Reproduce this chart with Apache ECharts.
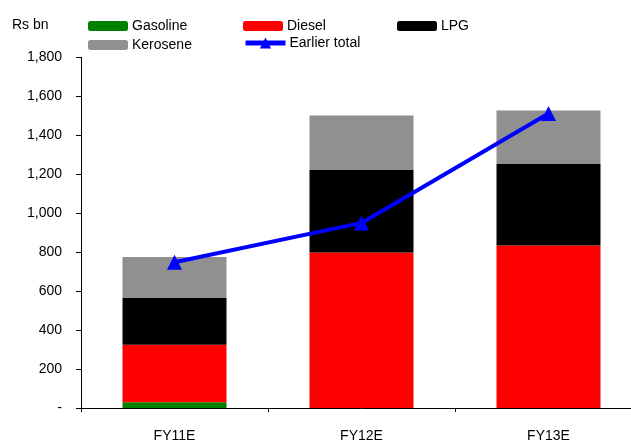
<!DOCTYPE html>
<html>
<head>
<meta charset="utf-8">
<script src="https://cdn.jsdelivr.net/npm/echarts@6/dist/echarts.min.js"></script>
<style>
  html, body { margin: 0; padding: 0; background: #fff; overflow: hidden; }
  /* plot area runs a little past the right edge of the window */
  #chart { width: 642px; height: 443px; }
</style>
</head>
<body>
<div id="chart"></div>
<script>
// Fuel under-recoveries by product, Rs bn
const categories = ['FY11E', 'FY12E', 'FY13E'];
const gasoline = [29, 0, 0];
const diesel = [296, 798, 834];
const lpg = [240, 423, 418];
const kerosene = [210, 280, 275];
const earlierTotal = [748, 950, 1512];
const yTicks = { min: 0, max: 1800, interval: 200 };

const FONT = 'Liberation Sans, Arial, sans-serif';
const textStyle = { fontFamily: FONT, fontSize: 14, color: '#000' };

function fmt(v) {
  if (v === 0) return '-';
  return v.toString().replace(/\B(?=(\d{3})+(?!\d))/g, ',');
}

function legendAt(name, left, top, extra) {
  return Object.assign({
    data: [name], left: left, top: top,
    itemWidth: 40, itemHeight: 10, itemGap: 0,
    padding: 0, textStyle: Object.assign({ padding: [0, 0, 0, -1] }, textStyle),
    selectedMode: false
  }, extra || {});
}

const chart = echarts.init(document.getElementById('chart'), null, { renderer: 'canvas' });
chart.setOption({
  animation: false,
  backgroundColor: '#fff',
  textStyle: textStyle,
  graphic: [{
    type: 'text', left: 12, top: 18,
    style: { text: 'Rs bn', font: '14px ' + FONT, fill: '#000' }
  }],
  legend: [
    legendAt('Gasoline', 88, 19),
    legendAt('Diesel', 243, 19),
    legendAt('LPG', 397, 19),
    legendAt('Kerosene', 88, 38),
    legendAt('Earlier total', 243, 36, { itemHeight: 14, lineStyle: { width: 5 } })
  ],
  grid: { left: 81, top: 57.3, right: 0, height: 353.4, containLabel: false },
  xAxis: {
    type: 'category',
    data: categories,
    axisLine: { lineStyle: { color: '#000', width: 1 } },
    axisTick: { show: true, length: 4, alignWithLabel: false, lineStyle: { color: '#000' } },
    axisLabel: Object.assign({ margin: 21 }, textStyle),
    splitLine: { show: false }
  },
  yAxis: {
    type: 'value',
    min: yTicks.min, max: yTicks.max, interval: yTicks.interval,
    axisLine: { show: true, lineStyle: { color: '#000', width: 1 } },
    axisTick: { show: true, length: 5, lineStyle: { color: '#000' } },
    axisLabel: Object.assign({ margin: 19, formatter: fmt }, textStyle),
    splitLine: { show: false }
  },
  series: [
    { name: 'Gasoline', type: 'bar', stack: 'fuel', barWidth: 104, data: gasoline, itemStyle: { color: '#008000' } },
    { name: 'Diesel', type: 'bar', stack: 'fuel', barWidth: 104, data: diesel, itemStyle: { color: '#ff0000' } },
    { name: 'LPG', type: 'bar', stack: 'fuel', barWidth: 104, data: lpg, itemStyle: { color: '#000000' } },
    { name: 'Kerosene', type: 'bar', stack: 'fuel', barWidth: 104, data: kerosene, itemStyle: { color: '#909090' } },
    {
      name: 'Earlier total', type: 'line', data: earlierTotal, z: 10,
      symbol: 'triangle', symbolSize: 15,
      lineStyle: { color: '#0000ff', width: 4 },
      itemStyle: { color: '#0000ff' }
    }
  ]
});
</script>
</body>
</html>
